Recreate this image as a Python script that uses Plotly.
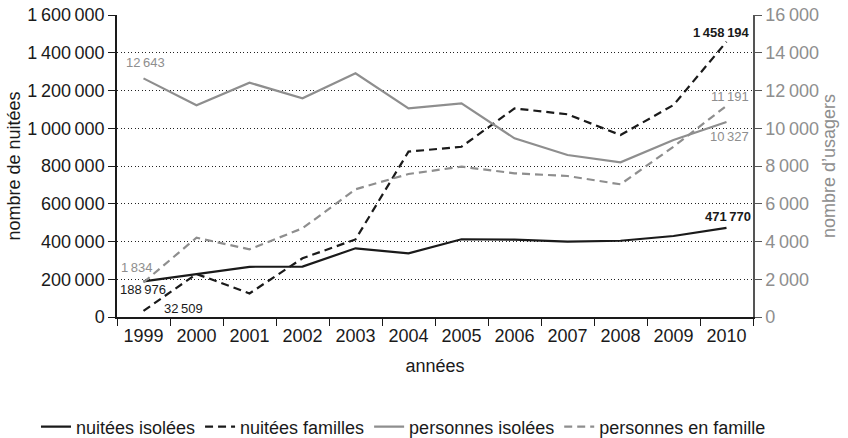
import plotly.graph_objects as go

years = [1999, 2000, 2001, 2002, 2003, 2004, 2005, 2006, 2007, 2008, 2009, 2010]
year_labels = ["1999", "2000", "2001", "2002", "2003", "2004", "2005", "2006", "2007", "2008", "2009", "2010"]
nuitees_isolees = [188976, 226000, 266000, 267000, 364000, 337000, 412000, 410000, 399000, 404000, 429000, 471770]
nuitees_familles = [32509, 228000, 125000, 311000, 411000, 876000, 902000, 1105000, 1074000, 964000, 1123000, 1458194]
personnes_isolees = [12643, 11216, 12414, 11587, 12911, 11057, 11322, 9467, 8583, 8195, 9377, 10327]
personnes_famille = [1834, 4201, 3586, 4699, 6765, 7576, 7963, 7613, 7470, 7030, 9024, 11191]

left_ticks = [0, 200000, 400000, 600000, 800000, 1000000, 1200000, 1400000, 1600000]
right_ticks = [0, 2000, 4000, 6000, 8000, 10000, 12000, 14000, 16000]

BLACK = "#1a1a1a"
GRAY = "#8e8e8e"
FONT = "Liberation Sans, Arial, sans-serif"

fig = go.Figure()
fig.add_trace(go.Scatter(x=years, y=nuitees_isolees, name="nuitées isolées", mode="lines",
                         line=dict(color=BLACK, width=2.2)))
fig.add_trace(go.Scatter(x=years, y=nuitees_familles, name="nuitées familles", mode="lines",
                         line=dict(color=BLACK, width=2.2, dash="8px,5px")))
fig.add_trace(go.Scatter(x=years, y=personnes_isolees, name="personnes isolées", mode="lines",
                         yaxis="y2", line=dict(color=GRAY, width=2.2)))
fig.add_trace(go.Scatter(x=years, y=personnes_famille, name="personnes en famille", mode="lines",
                         yaxis="y2", line=dict(color=GRAY, width=2.2, dash="8px,5px")))

def fmt(v):
    return f"{v:,}".replace(",", "\u2009")

ann = [
    dict(x=years[0], y=personnes_isolees[0], yref="y2", text=fmt(personnes_isolees[0]), color=GRAY, xs=2, ys=16),
    dict(x=years[0], y=personnes_famille[0], yref="y2", text=fmt(personnes_famille[0]), color=GRAY, xs=-7, ys=15),
    dict(x=years[0], y=nuitees_isolees[0], yref="y", text=fmt(nuitees_isolees[0]), color=BLACK, xs=-1, ys=-8),
    dict(x=years[0], y=nuitees_familles[0], yref="y", text=fmt(nuitees_familles[0]), color=BLACK, xs=40, ys=2),
    dict(x=years[-1], y=nuitees_familles[-1], yref="y", text="<b>" + fmt(nuitees_familles[-1]) + "</b>", color=BLACK, xs=-5, ys=9),
    dict(x=years[-1], y=nuitees_isolees[-1], yref="y", text="<b>" + fmt(nuitees_isolees[-1]) + "</b>", color=BLACK, xs=1, ys=11),
    dict(x=years[-1], y=personnes_famille[-1], yref="y2", text=fmt(personnes_famille[-1]), color=GRAY, xs=3, ys=9),
    dict(x=years[-1], y=personnes_isolees[-1], yref="y2", text=fmt(personnes_isolees[-1]), color=GRAY, xs=3, ys=-14),
]
for a in ann:
    fig.add_annotation(x=a["x"], y=a["y"], xref="x", yref=a["yref"], text=a["text"], showarrow=False,
                       xshift=a["xs"], yshift=a["ys"],
                       font=dict(family=FONT, size=13, color=a["color"]))

boundaries = [y - 0.5 for y in years] + [years[-1] + 0.5]

fig.update_layout(
    width=848, height=438,
    margin=dict(l=117, r=95, t=15, b=121, autoexpand=False),
    paper_bgcolor="white", plot_bgcolor="white",
    font=dict(family=FONT, size=18, color=BLACK),
    separators=".\u2009",
    showlegend=True,
    legend=dict(orientation="h", x=-0.1274, xanchor="left", y=-0.364, yanchor="middle",
                font=dict(size=18, color=BLACK), itemwidth=30, tracegroupgap=0),
    xaxis=dict(type="linear", range=[years[0] - 0.5, years[-1] + 0.5], tickvals=years, ticktext=year_labels,
               ticks="outside", ticklen=2, tickcolor="rgba(0,0,0,0)",
               showline=True, linecolor=BLACK, linewidth=1.5, showgrid=False, zeroline=False,
               minor=dict(tickvals=boundaries, ticks="outside", ticklen=7, tickcolor=BLACK, showgrid=False),
               title=dict(text="années", standoff=14, font=dict(size=18)),
               tickfont=dict(size=18, color=BLACK)),
    yaxis=dict(range=[0, 1600000], tickvals=left_ticks, tickformat=",d", ticks="outside", ticklen=7,
               tickcolor=BLACK, showline=True, linecolor=BLACK, linewidth=1.5,
               showgrid=True, gridcolor="#222", gridwidth=1, griddash="1px,2.5px", zeroline=False,
               title=dict(text="nombre de nuitées", standoff=2, font=dict(size=18, color=BLACK)),
               tickfont=dict(size=18, color=BLACK)),
    yaxis2=dict(range=[0, 16000], tickvals=right_ticks, tickformat=",d", overlaying="y", side="right",
                ticks="outside", ticklen=7, tickcolor="#555", showline=True, linecolor="#555", linewidth=1.5,
                showgrid=False, zeroline=False,
                title=dict(text="nombre d’usagers", standoff=0, font=dict(size=18, color=GRAY)),
                tickfont=dict(size=18, color=GRAY)),
)

fig.write_html("out.html", config={"displayModeBar": False},
               post_script="document.body.style.margin='0';")
